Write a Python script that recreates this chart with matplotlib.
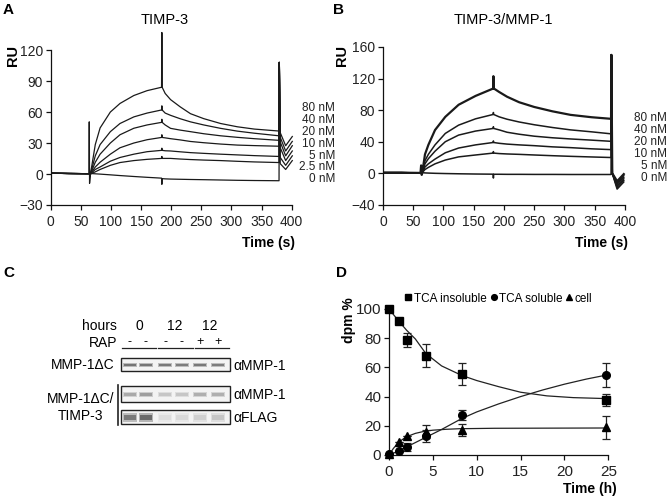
import matplotlib
matplotlib.use("Agg")
import numpy as np
import matplotlib.pyplot as plt
from matplotlib.patches import Rectangle

plt.rcParams['font.family'] = ['Liberation Sans', 'DejaVu Sans']

# ---------------- panel A: TIMP-3 sensorgrams (RU vs s) ----------------
a_time = [0, 30, 63.5, 64, 64.5, 66, 74, 82, 99, 115, 138, 160, 184, 184.5,
          185, 190, 199, 215, 232, 254, 282, 310, 338, 379, 379.5, 381, 390, 401]
a_80 = [0.8, 0.5, 0.3, 50.5, -9, 0, 28.5, 44.6, 60, 68.3, 76, 80.7, 84, 137,
        84, 78, 72, 65, 58.4, 53.6, 48.9, 45.7, 43.5, 41.6, 108, 40, 27.4, 36.3]
a_40 = [0.8, 0.5, 0.3, 0.3, 0.3, 0, 17.6, 28.5, 41, 48.9, 55.3, 59, 62, 66,
        62, 59, 56.8, 53.5, 50.5, 47.5, 44.2, 41.5, 39.5, 37, 108, 35.5, 22.3, 31.6]
a_20 = [0.8, 0.5, 0.3, 0.3, 0.3, 0, 11.4, 19.2, 30, 38, 44.3, 47.5, 50, 53,
        50, 47.5, 44.2, 42.5, 41, 39, 37, 35.5, 34.2, 32.6, 108, 31, 17.6, 27.4]
a_10 = [0.8, 0.5, 0.3, 0.3, 0.3, 0, 6.8, 11.4, 19.2, 25.4, 30, 33.2, 35.4, 38,
        35.4, 35, 34.2, 33, 31.5, 30.3, 29, 28, 27.5, 26.9, 108, 25.5, 13, 22.3]
a_5 = [0.8, 0.5, 0.3, 0.3, 0.3, 0, 4.4, 6.8, 12.4, 16, 19.2, 21.6, 22.9, 25,
       22.9, 22.5, 22.3, 21.5, 20.7, 20, 19.2, 18.5, 17.8, 17, 108, 16, 8.4, 17.6]
a_2p5 = [0.8, 0.5, 0.3, 0.3, 0.3, 0, 2.1, 4.4, 8.4, 11.1, 13, 14.2, 15.1, 17,
         15.1, 15.1, 15.1, 14.5, 14, 13.5, 13, 12.3, 11.7, 11.1, 108, 10, 4.4, 13]
a_0 = [0.8, 0.5, 0.3, 0.3, 0.3, 0.5, 0.2, -0.1, -0.8, -1.5, -2.4, -3.2, -4, -10,
       -4.5, -4.7, -4.9, -5.1, -5.3, -5.5, -5.8, -6.1, -6.3, -6.5, 108,
       np.nan, np.nan, np.nan]
a_labels = ['80 nM', '40 nM', '20 nM', '10 nM', '5 nM', '2.5 nM', '0 nM']

# ---------------- panel B: TIMP-3/MMP-1 sensorgrams ----------------
b_time = [0, 30, 62, 63, 64, 65, 69.4, 75, 86, 103, 125, 153, 182, 182.5,
          183, 192, 205, 225, 250, 280, 310, 345, 377, 377.5, 379, 387, 398]
b_80 = [0.8, 0.8, 0.5, 10, -2, 1, 24, 36, 54.8, 71.5, 86.8, 98, 107.3, 123,
        107.5, 103, 97, 90, 84, 78.5, 74, 71, 69, 150, 0, -10, -1]
b_40 = [0.8, 0.8, 0.5, 0.5, 0.5, 1, 16, 24, 36, 50.5, 61, 69, 74.5, 77,
        74.5, 71.5, 68.5, 65, 61.5, 58, 55, 52.5, 50, 150, 0, -12, -3]
b_20 = [0.8, 0.8, 0.5, 0.5, 0.5, 1, 12, 18.5, 28, 40, 48.4, 53.5, 56.8, 59,
        56.8, 55, 52, 49.5, 47, 45, 43.5, 42, 40.5, 150, 0, -14, -5]
b_10 = [0.8, 0.8, 0.5, 0.5, 0.5, 1, 8, 12, 18, 26, 32, 36, 39, 41,
        39, 38, 37, 36, 35, 33.5, 32.5, 31, 30, 150, 0, -16, -7]
b_5 = [0.8, 0.8, 0.5, 0.5, 0.5, 1, 4.8, 7.5, 12, 16.8, 20.8, 23.2, 25.6, 27.5,
       25.6, 25, 24.5, 24, 23.2, 22.3, 21.5, 20.7, 20, 150, 0, -18, -9]
b_0 = [0.8, 0.8, 0.5, 0.5, 0.5, 0.8, 0.5, 0.3, 0, -0.3, -0.6, -0.9, -1.1, -6,
       -1.2, -1.2, -1.3, -1.3, -1.4, -1.4, -1.5, -1.5, -1.5, 150, 0, -20, -11]
b_labels = ['80 nM', '40 nM', '20 nM', '10 nM', '5 nM', '0 nM']

# ---------------- panel C: blot band intensities (0..1) ----------------
c_lane_rap = ['-', '-', '-', '-', '+', '+']
c_hours = ['0', '12', '12']
c_mmp1_alone = [0.72, 0.72, 0.7, 0.68, 0.7, 0.68]
c_mmp1_timp3 = [0.45, 0.5, 0.3, 0.3, 0.42, 0.42]
c_flag_timp3 = [0.7, 0.78, 0.18, 0.2, 0.25, 0.3]

# ---------------- panel D: dpm % vs time (h) ----------------
d_time = [0, 1.1, 2.1, 4.2, 8.3, 24.7]
d_insol = [100, 91.8, 78.8, 68, 55.3, 37.7]
d_insol_err = [0, 0, 4.5, 8, 7.6, 4.3]
d_sol = [1, 2.5, 5.7, 13, 27.4, 54.8]
d_sol_err = [0, 0, 2.7, 4, 3.2, 7.9]
d_cell = [1, 8.7, 13, 16, 17.1, 19]
d_cell_err = [0, 0, 0, 4.5, 4.2, 8]

fit_insol_t = [0, 1, 2, 3, 4.2, 6, 8.3, 10, 12.5, 15, 18, 21, 25]
fit_insol_v = [100, 92.5, 85.5, 79.5, 69.5, 61, 54.5, 51, 46.8, 43, 40.5, 39.3, 38.6]
fit_sol_t = [0, 1, 2, 4, 6, 8.3, 10, 12.5, 15, 17.5, 20, 22.5, 25]
fit_sol_v = [0, 2.5, 5.5, 11.5, 17.5, 25, 29.5, 35, 40, 44.5, 48.5, 52, 55]
fit_cell_t = [0, 0.5, 1, 1.5, 2, 3, 4, 5, 6.5, 8, 12, 25]
fit_cell_v = [0, 4.5, 8, 10.5, 12.5, 14.8, 16.2, 17, 17.6, 18, 18.3, 18.5]

W, H = 669, 500
fig = plt.figure(figsize=(W / 100, H / 100), dpi=100)

# overlay in pixel coordinates for annotations and the blot
ov = fig.add_axes([0, 0, 1, 1])
ov.set_xlim(0, W)
ov.set_ylim(H, 0)
ov.axis('off')


def px_axes(x0, x1, ytop, ybot):
    return fig.add_axes([x0 / W, 1 - ybot / H, (x1 - x0) / W, (ybot - ytop) / H])


def style(ax, labelsize=10):
    for s in ['top', 'right']:
        ax.spines[s].set_visible(False)
    for s in ['left', 'bottom']:
        ax.spines[s].set_linewidth(0.9)
        ax.spines[s].set_color('#111111')
    ax.tick_params(direction='out', length=3.5, width=0.9, colors='#111111',
                   labelsize=labelsize, labelcolor='#222222')
    ax.tick_params(axis='x', pad=3.5)
    ax.tick_params(axis='y', pad=2)
    ax.patch.set_alpha(0)


# ---- A
axA = px_axes(50.7, 294.7, 29.4, 205)
for vals in [a_80, a_40, a_20, a_10, a_5, a_2p5, a_0]:
    axA.plot(a_time, vals, color='#1a1a1a', lw=0.9)
axA.set_xlim(0, 405)
axA.set_ylim(-30, 140)
axA.set_xticks(np.arange(0, 401, 50))
axA.set_yticks([-30, 0, 30, 60, 90, 120])
axA.spines['left'].set_bounds(-30, 120)
axA.spines['bottom'].set_bounds(0, 400)
style(axA)

# ---- B
axB = px_axes(383, 628, 43, 204.9)
for i, vals in enumerate([b_80, b_40, b_20, b_10, b_5, b_0]):
    axB.plot(b_time, vals, color='#1a1a1a', lw=1.6 if i == 0 else 1.1)
axB.set_xlim(0, 405)
axB.set_ylim(-40, 165)
axB.set_xticks(np.arange(0, 401, 50))
axB.set_yticks([-40, 0, 40, 80, 120, 160])
axB.spines['left'].set_bounds(-40, 160)
axB.spines['bottom'].set_bounds(0, 400)
style(axB)

# ---- D
axD = px_axes(389, 608.3, 309, 455)
axD.plot(fit_insol_t, fit_insol_v, color='#222222', lw=0.9)
axD.plot(fit_sol_t, fit_sol_v, color='#222222', lw=0.9)
axD.plot(fit_cell_t, fit_cell_v, color='#222222', lw=0.9)
handles = []
for vals, err, mk, lab in [(d_insol, d_insol_err, 's', 'TCA insoluble'),
                           (d_sol, d_sol_err, 'o', 'TCA soluble'),
                           (d_cell, d_cell_err, '^', 'cell')]:
    cont = axD.errorbar(d_time, vals, yerr=err, fmt=mk, ms=5.5, color='black',
                        ecolor='#222222', elinewidth=0.9, capsize=3,
                        capthick=0.9, label=lab, zorder=3)
    for art in cont.get_children():
        art.set_clip_on(False)
    handles.append(cont[0])
axD.set_xlim(0, 25)
axD.set_ylim(0, 100)
axD.set_xticks([0, 5, 10, 15, 20, 25])
axD.set_yticks([0, 20, 40, 60, 80, 100])
style(axD, labelsize=11)
axD.legend(handles, ['TCA insoluble', 'TCA soluble', 'cell'], ncol=3,
           frameon=False, loc='lower center', bbox_to_anchor=(0.5, 1.03),
           handlelength=0.6, handletextpad=0.15, columnspacing=0.3,
           markerscale=0.75, fontsize=8.5, borderpad=0, borderaxespad=0)

# ---- annotations
bold = dict(fontweight='bold')
ov.text(3, 10, 'A', fontsize=11, va='center', **bold)
ov.text(333, 10, 'B', fontsize=11, va='center', **bold)
ov.text(3, 273, 'C', fontsize=11, va='center', **bold)
ov.text(336, 273, 'D', fontsize=11, va='center', **bold)

ov.text(165, 20, 'TIMP-3', ha='center', va='center', fontsize=10.5)
ov.text(503, 20, 'TIMP-3/MMP-1', ha='center', va='center', fontsize=10.5)
ov.text(12.5, 55, 'RU', rotation=90, ha='center', va='center', fontsize=10.5, **bold)
ov.text(342, 55, 'RU', rotation=90, ha='center', va='center', fontsize=10.5, **bold)
ov.text(295, 243, 'Time (s)', ha='right', va='center', fontsize=10, **bold)
ov.text(628, 243, 'Time (s)', ha='right', va='center', fontsize=10, **bold)
ov.text(617, 489, 'Time (h)', ha='right', va='center', fontsize=10, **bold)
ov.text(349, 320, 'dpm %', rotation=90, ha='center', va='center', fontsize=10, **bold)

for i, lab in enumerate(a_labels):
    ov.text(335, 108 + i * 11.9, lab, ha='right', va='center', fontsize=8.5,
            color='#222222')
for i, lab in enumerate(b_labels):
    ov.text(667, 118.3 + i * 12, lab, ha='right', va='center', fontsize=8.5,
            color='#222222')

# ---- C: blot
lanes = [130, 146, 165, 182, 200, 218]
ov.text(117, 326, 'hours', ha='right', va='center', fontsize=10)
for j, h in enumerate(c_hours):
    ov.text((lanes[2 * j] + lanes[2 * j + 1]) / 2 + 1, 326, h, ha='center',
            va='center', fontsize=10)
ov.text(117, 343, 'RAP', ha='right', va='center', fontsize=10)
for x, s in zip(lanes, c_lane_rap):
    ov.text(x, 342, s, ha='center', va='center', fontsize=9)
for x0, x1 in [(122, 156), (158, 193), (195, 229)]:
    ov.plot([x0, x1], [348, 348], color='#222222', lw=0.9)

boxes = [(358, 371, c_mmp1_alone, 2.2, 'αMMP-1'),
         (386, 402, c_mmp1_timp3, 2.8, 'αMMP-1'),
         (410, 424, c_flag_timp3, 4.5, 'αFLAG')]
for top, bot, inten, bh, lab in boxes:
    ov.add_patch(Rectangle((121, top), 109, bot - top, facecolor='#f3f3f3',
                           edgecolor='#222222', lw=1.0))
    yc = (top + bot) / 2 + 0.5
    for x, v in zip(lanes, inten):
        g = 1 - 0.75 * v
        ov.add_patch(Rectangle((x - 7, yc - bh), 14, 2 * bh,
                               facecolor=(g, g, g), edgecolor='none', alpha=0.45))
        ov.add_patch(Rectangle((x - 6, yc - bh / 2), 12, bh,
                               facecolor=(g, g, g), edgecolor='none'))
    ov.text(233, (top + bot) / 2 + 1, lab, ha='left', va='center', fontsize=10)

ov.text(115, 365, 'MMP-1ΔC', ha='right', va='center', fontsize=10)
ov.text(114, 399, 'MMP-1ΔC/', ha='right', va='center', fontsize=10)
ov.text(80, 416, 'TIMP-3', ha='center', va='center', fontsize=10)
ov.plot([117.5, 117.5], [385, 425], color='#222222', lw=1.2)

fig.savefig('out.png', dpi=100)
